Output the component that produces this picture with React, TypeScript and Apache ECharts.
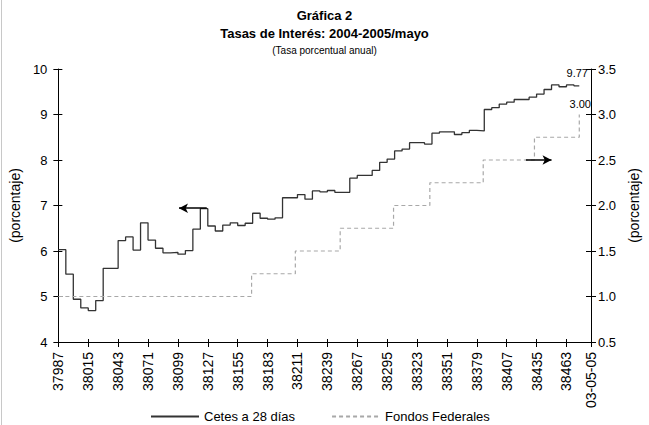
import React, { useEffect, useRef } from "react";
import * as echarts from "echarts";

// ---- Data (Excel date serials) ----
const xMin = 37987;
const xMax = 38486;
const xTickValues = [
  37987, 38015, 38043, 38071, 38099, 38127, 38155, 38183, 38211, 38239, 38267,
  38295, 38323, 38351, 38379, 38407, 38435, 38463, 38486,
];
const xTickLabels = [
  "37987", "38015", "38043", "38071", "38099", "38127", "38155", "38183", "38211",
  "38239", "38267", "38295", "38323", "38351", "38379", "38407", "38435", "38463",
  "03-05-05",
];

const cetesDates = [
  37987, 37994, 38001, 38008, 38015, 38022, 38029, 38036, 38043, 38050, 38057,
  38064, 38071, 38078, 38085, 38092, 38099, 38106, 38113, 38120, 38127, 38134,
  38141, 38148, 38155, 38162, 38169, 38176, 38183, 38190, 38197, 38204, 38211,
  38218, 38225, 38232, 38239, 38246, 38253, 38260, 38267, 38274, 38281, 38288,
  38295, 38302, 38309, 38316, 38323, 38330, 38337, 38344, 38351, 38358, 38365,
  38372, 38379, 38386, 38393, 38400, 38407, 38414, 38421, 38428, 38435, 38442,
  38449, 38456, 38463, 38470, 38475,
];
const cetesValues = [
  6.03, 5.49, 4.94, 4.75, 4.69, 4.91, 5.62, 5.62, 6.23, 6.31, 6.02,
  6.62, 6.24, 6.06, 5.96, 5.97, 5.93, 6.01, 6.48, 6.93, 6.55, 6.44,
  6.57, 6.62, 6.56, 6.61, 6.83, 6.72, 6.70, 6.73, 7.17, 7.17, 7.24,
  7.14, 7.32, 7.30, 7.33, 7.29, 7.29, 7.60, 7.66, 7.66, 7.77, 7.95,
  8.02, 8.20, 8.24, 8.38, 8.38, 8.35, 8.59, 8.62, 8.62, 8.56, 8.60,
  8.65, 8.64, 9.11, 9.15, 9.23, 9.27, 9.33, 9.33, 9.38, 9.45, 9.55,
  9.65, 9.61, 9.65, 9.63, 9.63,
];
const cetesEndLabel = "9.77";

const fondosDates = [37987, 38168, 38209, 38251, 38301, 38335, 38385, 38433, 38475];
const fondosValues = [1.0, 1.25, 1.5, 1.75, 2.0, 2.25, 2.5, 2.75, 3.0];

// annotation arrows (data coordinates)
const leftArrow = { from: [38126, 6.94], to: [38100, 6.94] };
const rightArrow = { from: [38425, 2.5], to: [38449, 2.5] };

const FONT = "'Liberation Sans', Arial, Helvetica, sans-serif";

export default function App() {
  const ref = useRef<HTMLDivElement>(null);
  useEffect(() => {
    const chart = echarts.init(ref.current!, null, { renderer: "svg" });
    const cetesData = cetesDates.map((d, i) => [d, cetesValues[i]]);
    const fondosData = fondosDates.map((d, i) => [d, fondosValues[i]]);
    const labelFor = (v: number) => {
      const i = xTickValues.indexOf(v);
      return i >= 0 ? xTickLabels[i] : "";
    };
    const black = "#000";
    chart.setOption({
      animation: false,
      backgroundColor: "#fff",
      textStyle: { fontFamily: FONT, color: black },
      title: [
        {
          text: "Gráfica 2",
          left: "center",
          top: 7,
          padding: 0,
          textStyle: { fontFamily: FONT, fontSize: 13, fontWeight: "bold", color: black, lineHeight: 16 },
        },
        {
          text: "Tasas de Interés: 2004-2005/mayo",
          left: "center",
          top: 25,
          padding: 0,
          textStyle: { fontFamily: FONT, fontSize: 13, fontWeight: "bold", color: black, lineHeight: 16 },
        },
        {
          text: "(Tasa porcentual anual)",
          left: "center",
          top: 44,
          padding: 0,
          textStyle: { fontFamily: FONT, fontSize: 10, fontWeight: "normal", color: black, lineHeight: 12 },
        },
      ],
      legend: {
        left: 150,
        top: 410,
        itemWidth: 48,
        itemHeight: 10,
        itemGap: 36,
        padding: 0,
        itemStyle: { opacity: 0 },
        textStyle: { fontFamily: FONT, fontSize: 13, color: black },
        data: ["Cetes a 28 días", "Fondos Federales"],
      },
      graphic: [
        {
          type: "line",
          shape: { x1: 1.5, y1: 0, x2: 1.5, y2: 425 },
          style: { stroke: "#c8c8c8", lineWidth: 1 },
          silent: true,
        },
      ],
      grid: { left: 55, right: 56, top: 69, bottom: 83 },
      xAxis: [
        {
          type: "value",
          min: xMin,
          max: xMax,
          position: "bottom",
          axisLine: { show: true, lineStyle: { color: black, width: 1 } },
          splitLine: { show: false },
          axisTick: { show: true, customValues: xTickValues, length: 5, lineStyle: { color: black } },
          axisLabel: {
            customValues: xTickValues,
            formatter: labelFor,
            rotate: 90,
            margin: 10,
            fontSize: 14,
            color: black,
            fontFamily: FONT,
          },
        },
        {
          type: "value",
          min: xMin,
          max: xMax,
          position: "bottom",
          axisLine: { show: false },
          splitLine: { show: false },
          axisTick: { show: true, inside: true, customValues: xTickValues, length: 3, lineStyle: { color: black } },
          axisLabel: { show: false },
        },
      ],
      yAxis: [
        {
          type: "value",
          min: 4,
          max: 10,
          interval: 1,
          position: "left",
          name: "(porcentaje)",
          nameLocation: "middle",
          nameRotate: 90,
          nameGap: 31,
          nameTextStyle: { fontFamily: FONT, fontSize: 14, color: black },
          axisLine: { show: true, lineStyle: { color: black } },
          axisTick: { show: true, length: 5, lineStyle: { color: black } },
          splitLine: { show: false },
          axisLabel: { margin: 11, fontSize: 13, color: black, fontFamily: FONT },
        },
        {
          type: "value",
          min: 0.5,
          max: 3.5,
          interval: 0.5,
          position: "right",
          name: "(porcentaje)",
          nameLocation: "middle",
          nameRotate: 90,
          nameGap: 35,
          nameTextStyle: { fontFamily: FONT, fontSize: 14, color: black },
          axisLine: { show: true, lineStyle: { color: black } },
          axisTick: { show: true, length: 5, lineStyle: { color: black } },
          splitLine: { show: false },
          axisLabel: {
            margin: 7,
            fontSize: 13,
            color: black,
            fontFamily: FONT,
            formatter: (v: number) => v.toFixed(1),
          },
        },
        {
          type: "value",
          min: 4,
          max: 10,
          interval: 1,
          position: "left",
          axisLine: { show: false },
          axisTick: { show: true, inside: true, length: 4, lineStyle: { color: black } },
          splitLine: { show: false },
          axisLabel: { show: false },
        },
        {
          type: "value",
          min: 0.5,
          max: 3.5,
          interval: 0.5,
          position: "right",
          axisLine: { show: false },
          axisTick: { show: true, inside: true, length: 5, lineStyle: { color: black } },
          splitLine: { show: false },
          axisLabel: { show: false },
        },
      ],
      series: [
        {
          name: "Cetes a 28 días",
          type: "line",
          xAxisIndex: 0,
          yAxisIndex: 0,
          step: "end",
          symbol: "none",
          data: cetesData,
          lineStyle: { color: "#333333", width: 1.3, type: "solid" },
          itemStyle: { color: "#333333" },
          endLabel: {
            show: true,
            formatter: () => cetesEndLabel,
            align: "center",
            verticalAlign: "middle",
            offset: [-10, -13],
            fontSize: 11,
            color: black,
            fontFamily: FONT,
          },
          markLine: {
            silent: true,
            symbol: ["none", "arrow"],
            symbolSize: [7, 9],
            label: { show: false },
            lineStyle: { color: black, width: 1.5, type: "solid" },
            data: [[{ coord: leftArrow.from }, { coord: leftArrow.to }]],
          },
        },
        {
          name: "Fondos Federales",
          type: "line",
          xAxisIndex: 0,
          yAxisIndex: 1,
          step: "end",
          symbol: "none",
          data: fondosData,
          lineStyle: { color: "#a8a8a8", width: 1.2, type: [4, 3] },
          itemStyle: { color: "#a8a8a8" },
          endLabel: {
            show: true,
            formatter: (p: any) => Number(p.value[1]).toFixed(2),
            align: "center",
            verticalAlign: "middle",
            offset: [-7, -11],
            fontSize: 11,
            color: black,
            fontFamily: FONT,
          },
          markLine: {
            silent: true,
            symbol: ["none", "arrow"],
            symbolSize: [7, 9],
            label: { show: false },
            lineStyle: { color: black, width: 1.5, type: "solid" },
            data: [[{ coord: rightArrow.from }, { coord: rightArrow.to }]],
          },
        },
      ],
    });
    return () => chart.dispose();
  }, []);
  return (
    <div
      ref={ref}
      style={{ position: "absolute", left: 0, top: 0, width: 649, height: 425, background: "#fff" }}
    />
  );
}
